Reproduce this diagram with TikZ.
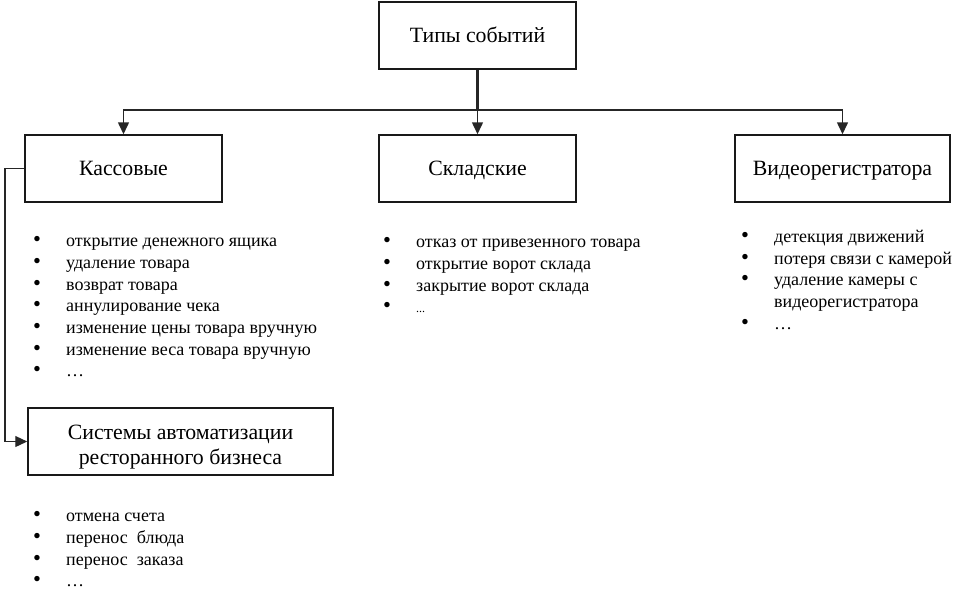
\documentclass[tikz,border=0pt]{standalone}
\usepackage{fontspec}
\usepackage{graphicx}
\setmainfont{Liberation Serif}
\usetikzlibrary{arrows.meta}
\tikzset{
  box/.style={draw=black!90, line width=1.5pt, minimum height=67pt, inner sep=0pt, align=center, font=\fontsize{21.8}{25}\selectfont},
  one/.style={text height=19pt, text depth=4.5pt},
  conn/.style={draw=black!85, line width=1.5pt},
  arr/.style={conn, -{Triangle[length=12pt,width=11pt]}},
  lst/.style={anchor=north west, inner sep=0pt, align=left, font=\fontsize{18}{21.7}\selectfont},
}
\newcommand{\itm}[1]{\makebox[33pt][l]{\smash{\scalebox{1.25}{•}}}#1}
\newcommand{\cnt}[1]{\makebox[33pt][l]{}#1}
\begin{document}
\begin{tikzpicture}[x=1pt,y=-1pt]
\useasboundingbox (0,0) rectangle (964,598);
\node[box, one, minimum width=197pt] (top) at (477.5,35.5) {Типы событий};
\node[box, one, minimum width=197pt] (kas) at (123.5,168.5) {Кассовые};
\node[box, one, minimum width=197pt] (skl) at (477.5,168.5) {Складские};
\node[box, one, minimum width=215pt] (vid) at (842.5,168.5) {Видеорегистратора};
\node[box, minimum width=305pt] (sys) at (180.5,441.5) {\raisebox{-11pt}[0pt][0pt]{\parbox{300pt}{\centering Системы автоматизации\\ресторанного бизнеса}}};
\coordinate (j) at (top.south |- 0,110);
\coordinate (l1) at (5,168.5);
\draw[conn, line width=2.2pt] (top.south) -- (j);
\draw[arr] (j) -| (kas.north);
\draw[arr] (j) -- (skl.north);
\draw[arr] (j) -| (vid.north);
\draw[arr, line width=1.2pt] (kas.west) -- (l1) |- (sys.west);
\node[lst] (kasl) at (33,238) {\itm{открытие денежного ящика}\\\itm{удаление товара}\\\itm{возврат товара}\\\itm{аннулирование чека}\\\itm{изменение цены товара вручную}\\\itm{изменение веса товара вручную}\\\itm{…}};
\node[lst] (skll) at (383,239) {\itm{отказ от привезенного товара}\\\itm{открытие ворот склада}\\\itm{закрытие ворот склада}\\\itm{\fontsize{12}{21.7}\selectfont...}};
\node[lst] (vidl) at (741,230) {\itm{детекция движений}\\\itm{потеря связи с камерой}\\\itm{удаление камеры с}\\\cnt{видеорегистратора}\\\itm{…}};
\node[lst] (sysl) at (33,513) {\itm{отмена счета}\\\itm{перенос~ блюда}\\\itm{перенос~ заказа}\\\itm{…}};
\end{tikzpicture}
\end{document}
